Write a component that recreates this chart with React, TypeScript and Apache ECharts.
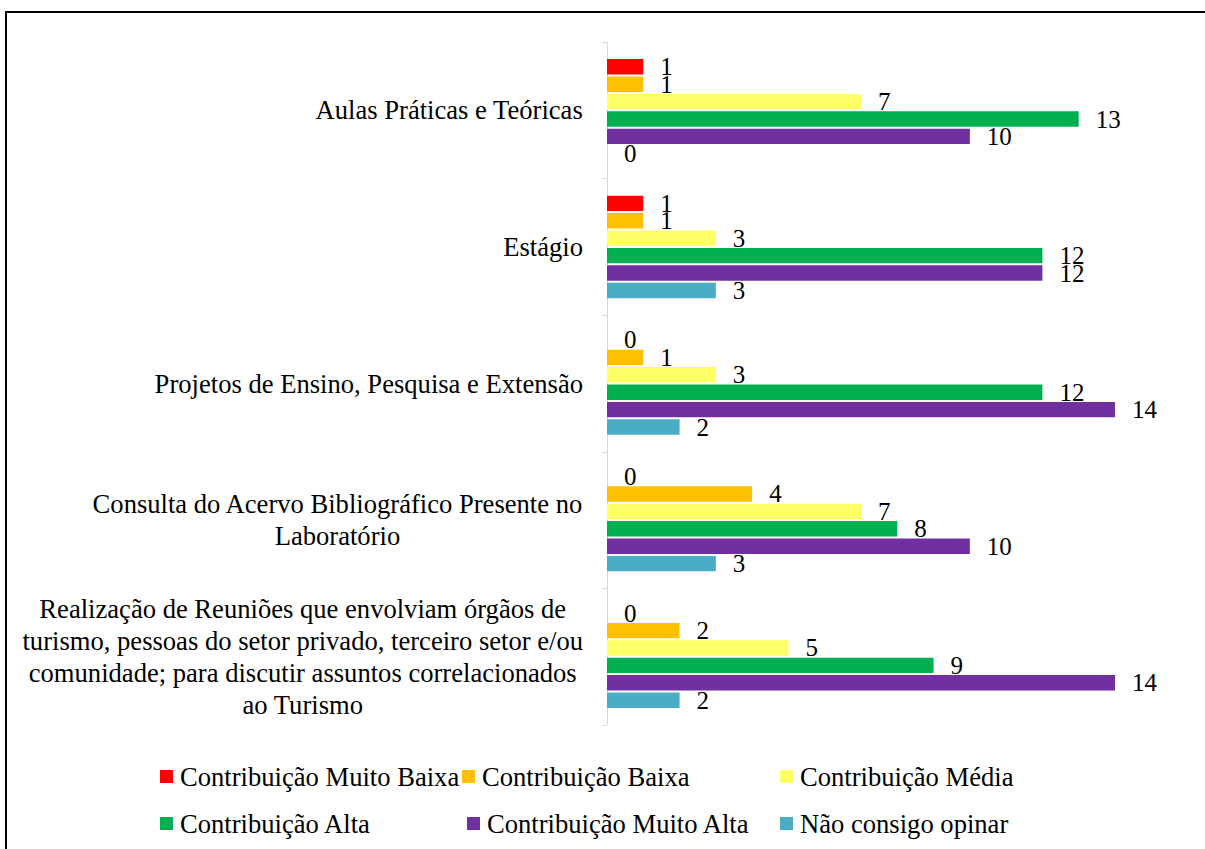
import React, { useEffect, useRef } from "react";
import * as echarts from "echarts";

const categories: string[] = [
  "Aulas Práticas e Teóricas",
  "Estágio",
  "Projetos de Ensino, Pesquisa e Extensão",
  "Consulta do Acervo Bibliográfico Presente no\nLaboratório",
  "Realização de Reuniões que envolviam órgãos de\nturismo, pessoas do setor privado, terceiro setor e/ou\ncomunidade; para discutir assuntos correlacionados\nao Turismo",
];

const seriesNames: string[] = [
  "Contribuição Muito Baixa",
  "Contribuição Baixa",
  "Contribuição Média",
  "Contribuição Alta",
  "Contribuição Muito Alta",
  "Não consigo opinar",
];

const muitoBaixa: number[] = [1, 1, 0, 0, 0];
const baixa: number[] = [1, 1, 1, 4, 2];
const media: number[] = [7, 3, 3, 7, 5];
const alta: number[] = [13, 12, 12, 8, 9];
const muitoAlta: number[] = [10, 12, 14, 10, 14];
const naoOpinar: number[] = [0, 3, 2, 3, 2];

const seriesValues: number[][] = [muitoBaixa, baixa, media, alta, muitoAlta, naoOpinar];
const colors: string[] = ["#FF0000", "#FFC000", "#FFFF66", "#00B050", "#7030A0", "#4BACC6"];

const FONT = "Liberation Serif";

const legendPos = [
  { left: 160, top: 763 },
  { left: 462, top: 763 },
  { left: 780, top: 763 },
  { left: 160, top: 810 },
  { left: 467, top: 810 },
  { left: 780, top: 810 },
];

export default function App() {
  const ref = useRef<HTMLDivElement>(null);
  useEffect(() => {
    if (!ref.current) return;
    const chart = echarts.init(ref.current, null, { renderer: "svg" });
    const option: any = {
      animation: false,
      backgroundColor: "#ffffff",
      textStyle: { fontFamily: FONT },
      grid: { left: 607, right: 90, top: 42, bottom: 124 },
      xAxis: {
        type: "value",
        min: 0,
        max: 14,
        show: false,
      },
      yAxis: {
        type: "category",
        inverse: true,
        data: categories,
        axisLine: { show: true, lineStyle: { color: "#D9D9D9", width: 1 } },
        axisTick: { show: true, length: 5, lineStyle: { color: "#D9D9D9" } },
        axisLabel: {
          margin: 24,
          color: "#000",
          fontFamily: FONT,
          fontSize: 26.6,
          lineHeight: 32,
          formatter: (v: string) =>
            v
              .split("\n")
              .map((l) => `{c|${l}}`)
              .join("\n"),
          rich: {
            c: {
              align: "center",
              color: "#000",
              fontFamily: FONT,
              fontSize: 26.6,
              lineHeight: 32,
            },
          },
        },
      },
      legend: legendPos.map((p, i) => ({
        data: [seriesNames[i]],
        left: p.left,
        top: p.top,
        icon: "rect",
        itemWidth: 13,
        itemHeight: 13,
        padding: 0,
        selectedMode: false,
        textStyle: { color: "#000", fontFamily: FONT, fontSize: 26.6, padding: [0, 0, 0, 2] },
      })),
      series: seriesNames.map((name, i) => ({
        name,
        type: "bar",
        data: seriesValues[i],
        itemStyle: { color: colors[i] },
        barCategoryGap: "25%",
        barGap: "13%",
        label: {
          show: true,
          position: "right",
          distance: 17,
          color: "#000",
          fontFamily: FONT,
          fontSize: 25,
        },
      })),
      graphic: [
        {
          type: "line",
          shape: { x1: 5, y1: 12, x2: 1205, y2: 12 },
          style: { stroke: "#000", lineWidth: 2 },
          silent: true,
        },
        {
          type: "line",
          shape: { x1: 6, y1: 11, x2: 6, y2: 849 },
          style: { stroke: "#000", lineWidth: 2 },
          silent: true,
        },
      ],
    };
    chart.setOption(option);
    return () => chart.dispose();
  }, []);
  return (
    <div
      ref={ref}
      style={{ position: "fixed", left: 0, top: 0, width: 1205, height: 849, background: "#fff" }}
    />
  );
}
